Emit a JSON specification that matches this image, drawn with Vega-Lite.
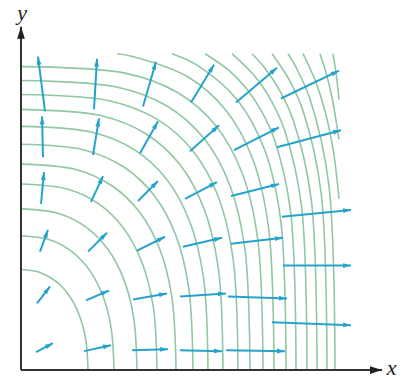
{
  "$schema": "https://vega.github.io/schema/vega-lite/v6.json",
  "width": 408,
  "height": 379,
  "padding": 0,
  "autosize": {"type": "fit", "contains": "padding"},
  "background": "white",
  "config": {"view": {"stroke": null}},
  "datasets": {
    "curves": [
      {"c":1,"i":0,"x":67,"y":0},{"c":1,"i":1,"x":64.9,"y":29.6},{"c":1,"i":2,"x":58.8,"y":53.8},{"c":1,"i":3,"x":48.9,"y":73.7},{"c":1,"i":4,"x":35.7,"y":88.6},{"c":1,"i":5,"x":19.6,"y":97.9},{"c":1,"i":6,"x":0,"y":101},
      {"c":2,"i":0,"x":93,"y":0},{"c":2,"i":1,"x":90.2,"y":41.7},{"c":2,"i":2,"x":82.1,"y":73.9},{"c":2,"i":3,"x":68.8,"y":99.9},{"c":2,"i":4,"x":50.9,"y":119.1},{"c":2,"i":5,"x":28.7,"y":131},{"c":2,"i":6,"x":0,"y":135},
      {"c":3,"i":0,"x":116,"y":0},{"c":3,"i":1,"x":112.7,"y":52.5},{"c":3,"i":2,"x":102.9,"y":90.9},{"c":3,"i":3,"x":86.9,"y":121.4},{"c":3,"i":4,"x":65.1,"y":143.7},{"c":3,"i":5,"x":37.6,"y":157.4},{"c":3,"i":6,"x":0,"y":162},
      {"c":4,"i":0,"x":136,"y":0},{"c":4,"i":1,"x":132.3,"y":63.4},{"c":4,"i":2,"x":121.2,"y":107.4},{"c":4,"i":3,"x":103.1,"y":141.7},{"c":4,"i":4,"x":78.1,"y":166.7},{"c":4,"i":5,"x":46.1,"y":181.9},{"c":4,"i":6,"x":0,"y":187},
      {"c":5,"i":0,"x":155,"y":0},{"c":5,"i":1,"x":150.9,"y":73.2},{"c":5,"i":2,"x":138.8,"y":121.5},{"c":5,"i":3,"x":118.7,"y":158.6},{"c":5,"i":4,"x":90.9,"y":185.3},{"c":5,"i":5,"x":54.8,"y":201.6},{"c":5,"i":6,"x":0,"y":207},
      {"c":6,"i":0,"x":172,"y":0},{"c":6,"i":1,"x":167.6,"y":83.4},{"c":6,"i":2,"x":154.6,"y":135.9},{"c":6,"i":3,"x":133.1,"y":175.6},{"c":6,"i":4,"x":102.9,"y":204.1},{"c":6,"i":5,"x":63.2,"y":221.3},{"c":6,"i":6,"x":0,"y":227},
      {"c":7,"i":0,"x":187,"y":0},{"c":7,"i":1,"x":182.4,"y":93.3},{"c":7,"i":2,"x":168.7,"y":149.3},{"c":7,"i":3,"x":146,"y":191.3},{"c":7,"i":4,"x":114,"y":221.1},{"c":7,"i":5,"x":71.2,"y":239},{"c":7,"i":6,"x":0,"y":245},
      {"c":8,"i":0,"x":202,"y":0},{"c":8,"i":1,"x":197.2,"y":103.2},{"c":8,"i":2,"x":182.9,"y":162.4},{"c":8,"i":3,"x":159.1,"y":206.3},{"c":8,"i":4,"x":125.2,"y":237.3},{"c":8,"i":5,"x":79.5,"y":255.8},{"c":8,"i":6,"x":0,"y":262},
      {"c":9,"i":0,"x":217,"y":0},{"c":9,"i":1,"x":212,"y":112.5},{"c":9,"i":2,"x":197.2,"y":174.5},{"c":9,"i":3,"x":172.2,"y":219.9},{"c":9,"i":4,"x":136.7,"y":251.7},{"c":9,"i":5,"x":88.1,"y":270.7},{"c":9,"i":6,"x":0,"y":277},
      {"c":10,"i":0,"x":229,"y":0},{"c":10,"i":1,"x":223.9,"y":121.7},{"c":10,"i":2,"x":208.7,"y":186.1},{"c":10,"i":3,"x":183.1,"y":232.7},{"c":10,"i":4,"x":146.4,"y":265.2},{"c":10,"i":5,"x":95.7,"y":284.6},{"c":10,"i":6,"x":0,"y":291},
      {"c":11,"i":0,"x":242,"y":0},{"c":11,"i":1,"x":236.8,"y":131.1},{"c":11,"i":2,"x":221.2,"y":197.8},{"c":11,"i":3,"x":194.9,"y":245.6},{"c":11,"i":4,"x":156.9,"y":278.8},{"c":11,"i":5,"x":104,"y":298.5},{"c":11,"i":6,"x":0,"y":305},
      {"c":12,"i":0,"x":253,"y":0},{"c":12,"i":1,"x":247.7,"y":141.9},{"c":12,"i":2,"x":231.9,"y":211.6},{"c":12,"i":3,"x":205.1,"y":261},{"c":12,"i":4,"x":166.2,"y":295.1},{"c":12,"i":5,"x":111.5,"y":315.3},{"c":12,"i":6,"x":96,"y":318},
      {"c":13,"i":0,"x":265,"y":0},{"c":13,"i":1,"x":259.7,"y":150.5},{"c":13,"i":2,"x":243.5,"y":221.7},{"c":13,"i":3,"x":216.1,"y":271.8},{"c":13,"i":4,"x":176.3,"y":306.3},{"c":13,"i":5,"x":151,"y":318},
      {"c":14,"i":0,"x":275,"y":0},{"c":14,"i":1,"x":269.6,"y":159.2},{"c":14,"i":2,"x":253.3,"y":231.9},{"c":14,"i":3,"x":240.9,"y":259.5},{"c":14,"i":4,"x":225.6,"y":282.7},{"c":14,"i":5,"x":207.1,"y":301.9},{"c":14,"i":6,"x":184,"y":318},
      {"c":15,"i":0,"x":286,"y":0},{"c":15,"i":1,"x":280.4,"y":165.7},{"c":15,"i":2,"x":263.4,"y":241.5},{"c":15,"i":3,"x":250.6,"y":270.2},{"c":15,"i":4,"x":234.6,"y":294.3},{"c":15,"i":5,"x":211,"y":318},
      {"c":16,"i":0,"x":296,"y":0},{"c":16,"i":1,"x":290.2,"y":171.6},{"c":16,"i":2,"x":272.6,"y":250},{"c":16,"i":3,"x":259.3,"y":279.8},{"c":16,"i":4,"x":242.8,"y":304.8},{"c":16,"i":5,"x":231,"y":318},
      {"c":17,"i":0,"x":306,"y":0},{"c":17,"i":1,"x":300,"y":179},{"c":17,"i":2,"x":281.9,"y":260.8},{"c":17,"i":3,"x":268.1,"y":291.9},{"c":17,"i":4,"x":251,"y":318},
      {"c":18,"i":0,"x":314,"y":0},{"c":18,"i":1,"x":307.8,"y":186.6},{"c":18,"i":2,"x":289.2,"y":271.8},{"c":18,"i":3,"x":275.1,"y":304.2},{"c":18,"i":4,"x":267,"y":318},
      {"c":19,"i":0,"x":282,"y":318},{"c":19,"i":1,"x":294.6,"y":290},{"c":19,"i":2,"x":304.1,"y":260},{"c":19,"i":3,"x":312.4,"y":220},{"c":19,"i":4,"x":318,"y":172},
      {"c":20,"i":0,"x":299,"y":318},{"c":20,"i":1,"x":304.7,"y":300},{"c":20,"i":2,"x":310.8,"y":275},{"c":20,"i":3,"x":318,"y":232},
      {"c":21,"i":0,"x":312,"y":318},{"c":21,"i":1,"x":315.5,"y":295},{"c":21,"i":2,"x":318,"y":272}
    ],
    "arrows": [
      {"x":24,"y":260,"x2":17,"y2":315},{"x":73,"y":262,"x2":76,"y2":313},{"x":122,"y":265,"x2":135,"y2":310},{"x":170,"y":269,"x2":193,"y2":307},{"x":215,"y":269,"x2":256,"y2":304},{"x":260,"y":273,"x2":318,"y2":301},
      {"x":22,"y":214,"x2":21,"y2":255},{"x":72,"y":216,"x2":78,"y2":253},{"x":119,"y":218,"x2":137,"y2":250},{"x":169,"y":220,"x2":198,"y2":246},{"x":213,"y":221,"x2":258,"y2":244},{"x":256,"y":224,"x2":320,"y2":241},
      {"x":20,"y":167,"x2":23,"y2":199},{"x":70,"y":169,"x2":82,"y2":195},{"x":117,"y":170,"x2":137,"y2":190},{"x":164,"y":172,"x2":196,"y2":189},{"x":210,"y":175,"x2":258,"y2":187},{"x":261,"y":154,"x2":330,"y2":161},
      {"x":19,"y":119,"x2":27,"y2":141},{"x":67,"y":119,"x2":86,"y2":138},{"x":116,"y":120,"x2":144,"y2":134},{"x":162,"y":124,"x2":201,"y2":133},{"x":210,"y":127,"x2":262,"y2":133},{"x":262,"y":105,"x2":330,"y2":105},
      {"x":16,"y":67,"x2":29,"y2":84},{"x":65,"y":70,"x2":88,"y2":80},{"x":112,"y":71,"x2":146,"y2":77},{"x":159,"y":74,"x2":205,"y2":77},{"x":207,"y":74,"x2":266,"y2":72},{"x":251,"y":48,"x2":330,"y2":45},
      {"x":15,"y":18,"x2":32,"y2":27},{"x":63,"y":19,"x2":90,"y2":25},{"x":111,"y":20,"x2":147,"y2":21},{"x":159,"y":20,"x2":201,"y2":19},{"x":205,"y":20,"x2":264,"y2":19}
    ],
    "axes": [
      {"x":0,"y":0,"x2":361,"y2":0},
      {"x":0,"y":0,"x2":0,"y2":345}
    ],
    "labels": [
      {"t":"x","x":370.5,"y":-5},
      {"t":"y","x":1,"y":352}
    ]
  },
  "layer": [
    {
      "data": {"name": "curves"},
      "mark": {"type": "line", "interpolate": "catmull-rom", "color": "#8fc8a2", "strokeWidth": 1.6},
      "encoding": {
        "x": {"field": "x", "type": "quantitative", "scale": {"domain": [-21, 387], "nice": false, "zero": false}, "axis": null},
        "y": {"field": "y", "type": "quantitative", "scale": {"domain": [-7, 372], "nice": false, "zero": false}, "axis": null},
        "detail": {"field": "c", "type": "nominal"},
        "order": {"field": "i", "type": "quantitative"}
      }
    },
    {
      "data": {"name": "arrows"},
      "mark": {"type": "rule", "color": "#25a3cc", "strokeWidth": 2},
      "encoding": {
        "x": {"field": "x", "type": "quantitative", "scale": {"domain": [-21, 387], "nice": false, "zero": false}, "axis": null},
        "y": {"field": "y", "type": "quantitative", "scale": {"domain": [-7, 372], "nice": false, "zero": false}, "axis": null},
        "x2": {"field": "x2"},
        "y2": {"field": "y2"}
      }
    },
    {
      "data": {"name": "arrows"},
      "transform": [{"calculate": "90 - atan2(datum.y2 - datum.y, datum.x2 - datum.x) * 180 / PI", "as": "ang"}],
      "mark": {"type": "point", "shape": "M0,0L0.6,2L-0.6,2Z", "filled": true, "color": "#25a3cc", "size": 64, "opacity": 1, "strokeWidth": 0},
      "encoding": {
        "x": {"field": "x2", "type": "quantitative", "scale": {"domain": [-21, 387], "nice": false, "zero": false}, "axis": null},
        "y": {"field": "y2", "type": "quantitative", "scale": {"domain": [-7, 372], "nice": false, "zero": false}, "axis": null},
        "angle": {"field": "ang", "type": "quantitative", "scale": null}
      }
    },
    {
      "data": {"name": "axes"},
      "mark": {"type": "rule", "color": "#333333", "strokeWidth": 2},
      "encoding": {
        "x": {"field": "x", "type": "quantitative", "scale": {"domain": [-21, 387], "nice": false, "zero": false}, "axis": null},
        "y": {"field": "y", "type": "quantitative", "scale": {"domain": [-7, 372], "nice": false, "zero": false}, "axis": null},
        "x2": {"field": "x2"},
        "y2": {"field": "y2"}
      }
    },
    {
      "data": {"name": "axes"},
      "transform": [{"calculate": "90 - atan2(datum.y2 - datum.y, datum.x2 - datum.x) * 180 / PI", "as": "ang"}],
      "mark": {"type": "point", "shape": "M0,0L0.65,2L-0.65,2Z", "filled": true, "color": "#222222", "size": 144, "opacity": 1, "strokeWidth": 0},
      "encoding": {
        "x": {"field": "x2", "type": "quantitative", "scale": {"domain": [-21, 387], "nice": false, "zero": false}, "axis": null},
        "y": {"field": "y2", "type": "quantitative", "scale": {"domain": [-7, 372], "nice": false, "zero": false}, "axis": null},
        "angle": {"field": "ang", "type": "quantitative", "scale": null}
      }
    },
    {
      "data": {"name": "labels"},
      "mark": {"type": "text", "font": "Liberation Serif", "fontStyle": "italic", "fontSize": 22, "align": "center", "baseline": "alphabetic", "color": "#222222"},
      "encoding": {
        "x": {"field": "x", "type": "quantitative", "scale": {"domain": [-21, 387], "nice": false, "zero": false}, "axis": null},
        "y": {"field": "y", "type": "quantitative", "scale": {"domain": [-7, 372], "nice": false, "zero": false}, "axis": null},
        "text": {"field": "t"}
      }
    }
  ]
}
